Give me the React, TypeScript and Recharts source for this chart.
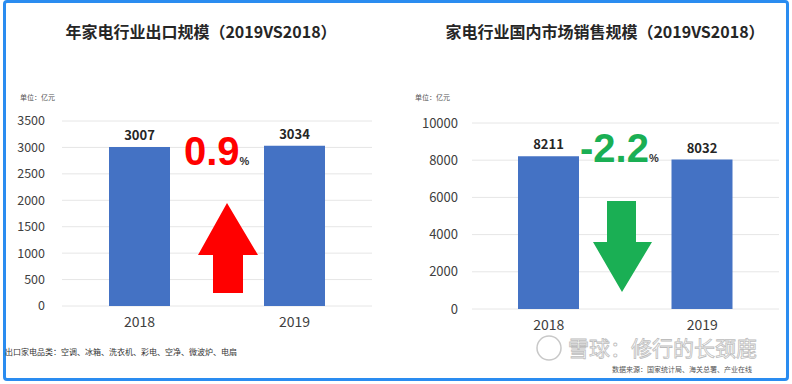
import { BarChart, Bar, XAxis, YAxis, CartesianGrid, LabelList } from 'recharts';

const YEARS = ['2018', '2019'];
const EXPORT_VALUES = [3007, 3034];
const DOMESTIC_VALUES = [8211, 8032];
const EXPORT_TICKS = [0, 500, 1000, 1500, 2000, 2500, 3000, 3500];
const DOMESTIC_TICKS = [0, 2000, 4000, 6000, 8000, 10000];

const BLUE = '#4472C4';
const RED = '#FF0000';
const GREEN = '#1AAF54';
const FONT = '"Noto Sans CJK SC", "Noto Sans", sans-serif';

const exportData = YEARS.map((year, i) => ({ year, value: EXPORT_VALUES[i] }));
const domesticData = YEARS.map((year, i) => ({ year, value: DOMESTIC_VALUES[i] }));

function Panel({ data, ticks, width, height, margin, yWidth, yTickMargin, yFont }: any) {
  return (
    <BarChart width={width} height={height} data={data} margin={margin}>
      <CartesianGrid vertical={false} stroke="#E6E6E6" />
      <XAxis
        dataKey="year"
        axisLine={false}
        tickLine={false}
        tickMargin={5}
        height={30}
        tick={{ fontSize: 14, fill: '#404040', fontFamily: FONT }}
      />
      <YAxis
        domain={[0, ticks[ticks.length - 1]]}
        ticks={ticks}
        width={yWidth}
        axisLine={false}
        tickLine={false}
        tickMargin={yTickMargin}
        interval={0}
        tick={{ fontSize: yFont, fill: '#404040', fontFamily: FONT }}
      />
      <Bar dataKey="value" fill={BLUE} barSize={61} isAnimationActive={false}>
        <LabelList
          dataKey="value"
          position="top"
          offset={7}
          style={{ fontSize: 13, fontWeight: 700, fill: '#262626', fontFamily: FONT }}
        />
      </Bar>
    </BarChart>
  );
}

export default function App() {
  return (
    <div style={{ position: 'absolute', left: 0, top: 0, width: 792, height: 384, background: '#fff', fontFamily: FONT }}>
      <div
        style={{
          position: 'absolute', left: 3, top: 0, width: 780, height: 375,
          border: '3px solid #2A8CF0', borderRadius: 4, boxSizing: 'content-box',
        }}
      />
      <div style={{ position: 'absolute', left: 0, top: 110 }}>
        <Panel
          data={exportData}
          ticks={EXPORT_TICKS}
          width={390}
          height={226}
          margin={{ top: 11, right: 18, left: 0, bottom: 0 }}
          yWidth={62}
          yTickMargin={11}
          yFont={12.5}
        />
      </div>
      <div style={{ position: 'absolute', left: 400, top: 112 }}>
        <Panel
          data={domesticData}
          ticks={DOMESTIC_TICKS}
          width={390}
          height={227}
          margin={{ top: 11, right: 11, left: 0, bottom: 0 }}
          yWidth={72}
          yTickMargin={8}
          yFont={13}
        />
      </div>
      <svg width={792} height={384} style={{ position: 'absolute', left: 0, top: 0, pointerEvents: 'none' }}>
        <g fontFamily={FONT}>
          <text x={201} y={38} textAnchor="middle" fontSize={16} fontWeight={700} fill="#262626">
            年家电行业出口规模（2019VS2018）
          </text>
          <text x={605} y={38} textAnchor="middle" fontSize={16} fontWeight={700} fill="#262626">
            家电行业国内市场销售规模（2019VS2018）
          </text>
          <text x={20} y={100} fontSize={7} fill="#555">单位：亿元</text>
          <text x={415} y={100} fontSize={7} fill="#555">单位：亿元</text>

          <text x={184} y={165} fontSize={40} fontWeight={700} fill={RED} fontFamily='"Liberation Sans", Arial, sans-serif'>
            0.9<tspan fontSize={11} fill="#333">%</tspan>
          </text>
          <polygon points="227,203 258,255 243,255 243,293 213,293 213,255 198,255" fill={RED} />

          <text x={580} y={162} fontSize={40} fontWeight={700} fill={GREEN} fontFamily='"Liberation Sans", Arial, sans-serif'>
            -2.2<tspan fontSize={11} fill="#333">%</tspan>
          </text>
          <polygon points="607,201 636,201 636,242 652,242 622,292 593,242 607,242" fill={GREEN} />

          <text x={5} y={355} fontSize={8} fill="#333">出口家电品类：空调、冰箱、洗衣机、彩电、空净、微波炉、电扇</text>

          <circle cx={549} cy={348} r={12} fill="none" stroke="#C8C8C8" strokeWidth={1.5} />
          <text x={568} y={356} fontSize={21} fill="#fff" stroke="#BDBDBD" strokeWidth={0.8}>雪球：修行的长颈鹿</text>
          <text x={612} y={372} fontSize={7} fill="#555">数据来源：国家统计局、海关总署、产业在线</text>
        </g>
      </svg>
    </div>
  );
}
